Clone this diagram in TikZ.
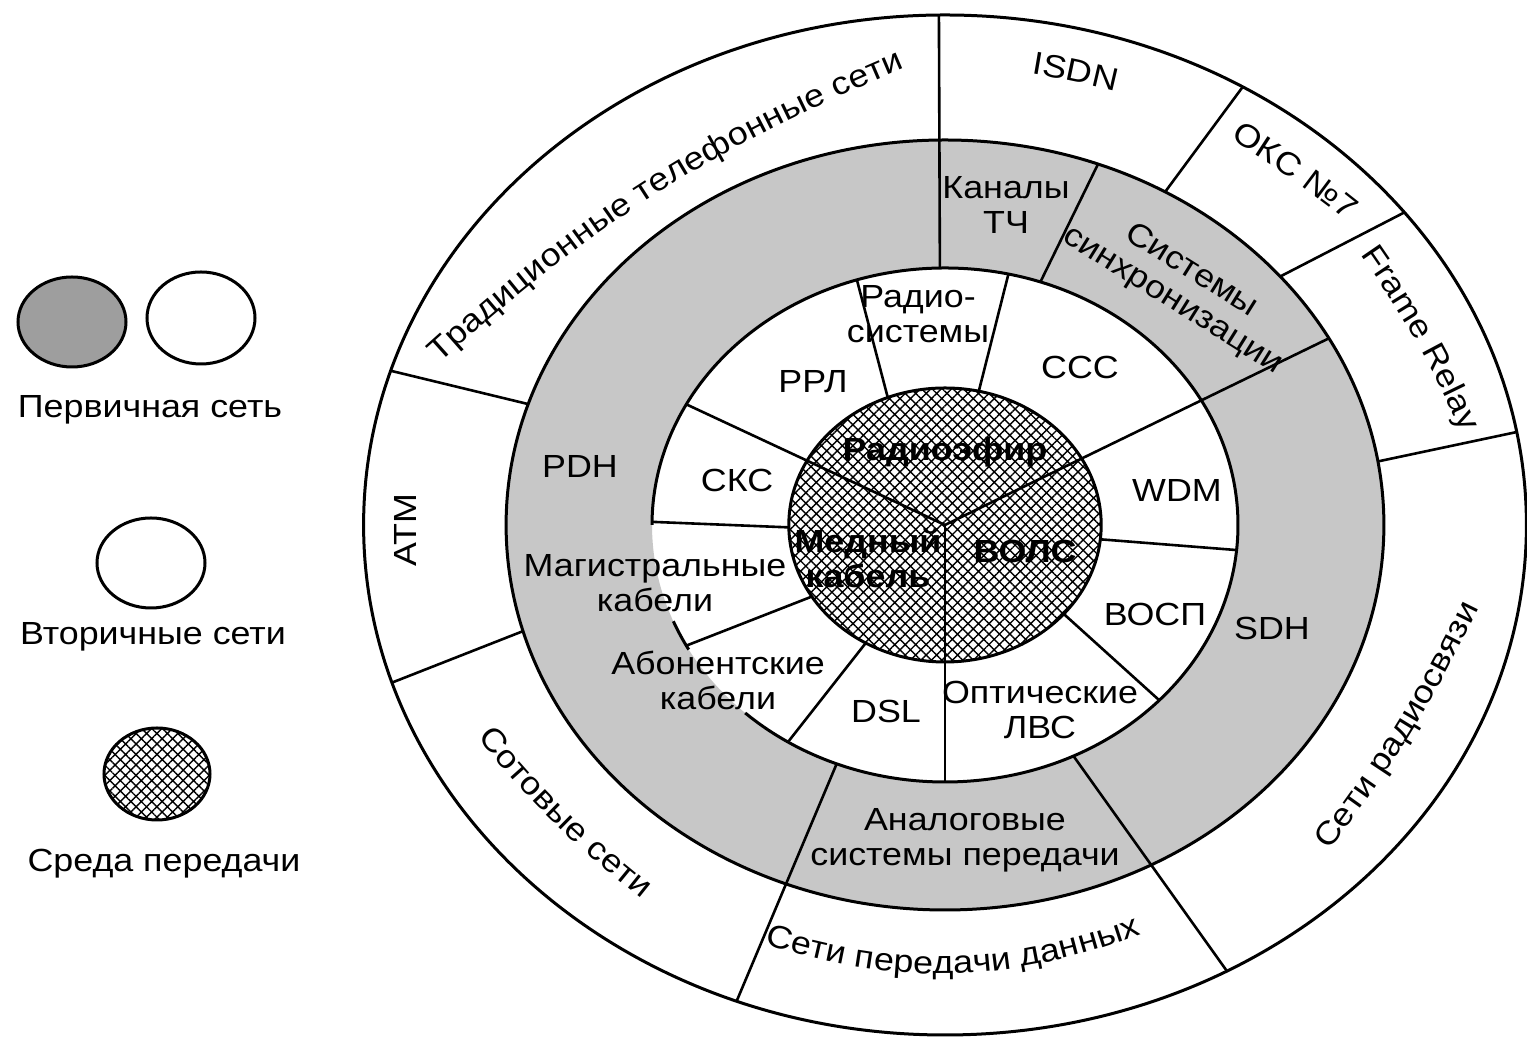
\documentclass[tikz,border=0pt]{standalone}
\usepackage{fontspec}
\setmainfont[FakeStretch=1.12]{Liberation Sans}
\usetikzlibrary{patterns.meta,decorations.text}
\newcommand\lblfont{\fontsize{16}{17.5}\selectfont}
\begin{document}
\begin{tikzpicture}[x=0.5pt,y=0.5pt,
  lbl/.style={font=\lblfont, inner sep=0pt, align=center},
  bld/.style={font=\lblfont\bfseries, inner sep=0pt, align=center},
  ringline/.style={line width=1.5pt},
  divline/.style={line width=1.3pt},
  hatchfill/.style={pattern={Hatch[angle=45,distance=3.7pt,line width=0.7pt]}, pattern color=black},
  primfill/.style={fill=black!22},
  curvedtext/.style={decorate, decoration={text along path, text align=center, text={|\lblfont|#1}}}
]
\useasboundingbox (0,0) rectangle (1527,1037);
\fill[white] (0,0) rectangle (1527,1037);

% ---------------- rings ----------------
\begin{scope}[shift={(945,512)}]
\begin{scope}[x=0.57pt]
  \fill[primfill, even odd rule] (0,0) circle[radius=385] (0,0) circle[radius=257];
  \fill[hatchfill] (0,0) circle[radius=137];
  \draw[ringline] (0,0) circle[radius=510];
  \draw[ringline] (0,0) circle[radius=385];
  \draw[ringline] (0,0) circle[radius=137];
  % secondary ring outer boundary (interrupted by labels)
  \draw[ringline] (227:257) arc[start angle=227, end angle=540, radius=257];
  \draw[ringline] (202:257) arc[start angle=202, end angle=209, radius=257];
  % media dividers (continuing outward)
  \draw[divline] (152:257) -- (0,0) -- (29:385);
  \draw[divline] (0,0) -- (270:257);
  % secondary networks dividers
  \draw[divline] (111.5:137) -- (107.5:257);
  \draw[divline] (77.5:137) -- (77.5:257);
  \draw[divline] (-6:137) -- (-5.6:257);
  \draw[divline] (-40.5:137) -- (-43:257);
  \draw[divline] (239.5:137) -- (237.6:257);
  \draw[divline] (211.5:137) -- (208:257);
  \draw[divline] (181:137) -- (179.3:257);
  % primary network dividers
  \draw[divline] (91:257) -- (90.6:510);
  \draw[divline] (71:257) -- (69.6:385);
  \draw[divline] (-64:257) -- (-61:510);
  \draw[divline] (248.3:257) -- (249:510);
  % outer ring dividers
  \draw[divline] (59.9:385) -- (59.2:510);
  \draw[divline] (40.2:385) -- (37.8:510);
  \draw[divline] (9.5:385) -- (10.5:510);
  \draw[divline] (196:385) -- (198:510);
  \draw[divline] (161.7:385) -- (162.4:510);
\end{scope}
\end{scope}

% ---------------- curved outer labels ----------------
\path[curvedtext={Традиционные телефонные сети}] (422,658) to[bend left=10] (926,978);
\path[curvedtext={ISDN}] (1000,968) to[bend left=3] (1146,938);
\path[curvedtext={ОКС №7}] (1214,908) to[bend left=4] (1362,804);
\path[curvedtext={Frame Relay}] (1345,805) to[bend left=6] (1473,579);
\path[curvedtext={Сети радиосвязи}] (1314,166) to[bend right=6] (1490,452);
\path[curvedtext={Сети передачи данных}] (740,100) to[bend right=20] (1165,112);
\path[curvedtext={Сотовые сети}] (458,323) to[bend right=7] (666,119);
\node[lbl, rotate=90] (atm) at (405,507) {АТМ};

% ---------------- primary network labels ----------------
\node[lbl] (tch) at (1006,832) {Каналы\\ТЧ};
\node[lbl, rotate=-32] (sync) at (1182,751) {Системы\\синхронизации};
\node[lbl] (pdh) at (580,570) {PDH};
\node[lbl] (sdh) at (1272,409) {SDH};
\node[lbl] (analog) at (965,197) {Аналоговые\\системы передачи};

% ---------------- secondary network labels ----------------
\node[lbl] (radiosys) at (918,723) {Радио-\\системы};
\node[lbl] (ccc) at (1080,670) {ССС};
\node[lbl] (rrl) at (813,655) {РРЛ};
\node[lbl] (scs) at (737,557) {СКС};
\node[lbl] (wdm) at (1177,546) {WDM};
\node[lbl] (vosp) at (1155,423) {ВОСП};
\node[lbl] (magist) at (655,454) {Магистральные\\кабели};
\node[lbl] (abon) at (718,357) {Абонентские\\кабели};
\node[lbl] (dsl) at (886,326) {DSL};
\node[lbl] (optlan) at (1040,327) {Оптические\\ЛВС};

% ---------------- media labels ----------------
\node[bld] (radioair) at (945,585) {Радиоэфир};
\node[bld] (copper) at (868,479) {Медный\\кабель};
\node[bld] (fiber) at (1025,486) {ВОЛС};

% ---------------- legend ----------------
\draw[ringline, fill=black!38] (72,715) ellipse[x radius=54, y radius=45];
\draw[ringline] (201,719) ellipse[x radius=54, y radius=46];
\node[lbl] (lprim) at (150,627) {Первичная сеть};
\draw[ringline] (151,474) ellipse[x radius=54, y radius=45];
\node[lbl] (lsec) at (153,400) {Вторичные сети};
\draw[ringline, hatchfill] (157,263) ellipse[x radius=53, y radius=46];
\node[lbl] (lmed) at (164,173) {Среда передачи};
\end{tikzpicture}
\end{document}
